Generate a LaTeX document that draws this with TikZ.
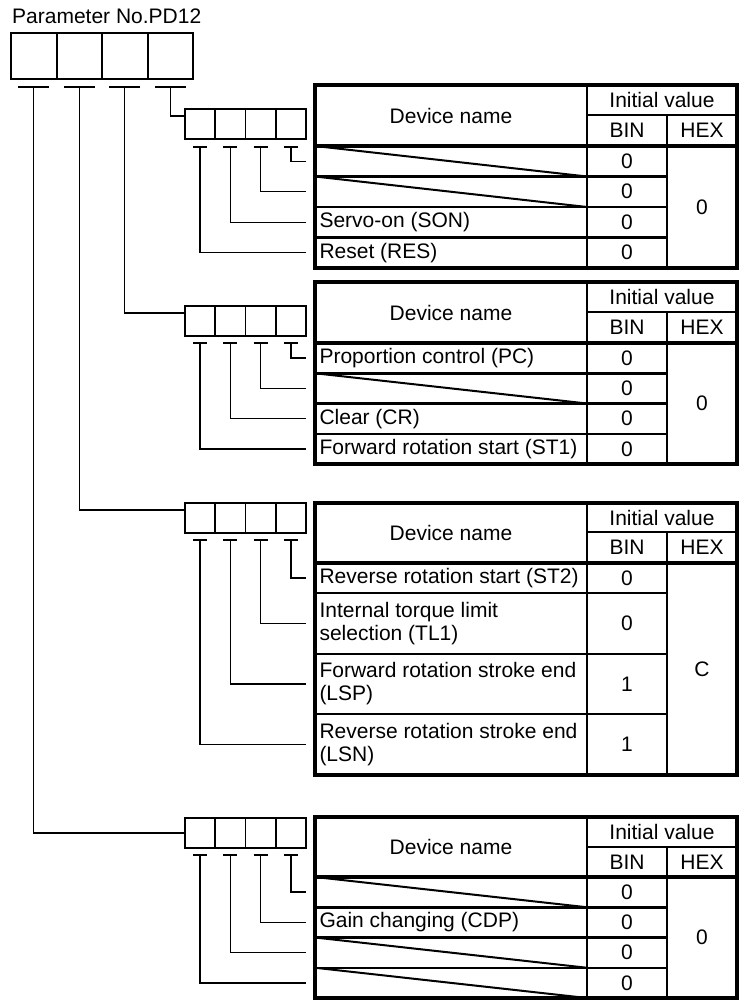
\documentclass[tikz,border=0pt]{standalone}
\usepackage{fontspec}
\setmainfont{Liberation Sans}
\tikzset{
  conn/.style={line width=1.3pt},
  tickln/.style={line width=2pt},
  bigcell/.style={draw, line width=2pt, minimum width=45.5pt, minimum height=46pt, inner sep=0pt, outer sep=0pt},
  smallcell/.style={draw, line width=1.6pt, minimum width=30.25pt, minimum height=30pt, inner sep=0pt, outer sep=0pt},
  namecell/.style={draw, line width=2.5pt, text width=263pt, inner xsep=4.5pt, inner ysep=0pt, align=flush left, outer sep=0pt},
  hdcell/.style={draw, line width=2.5pt, inner sep=0pt, outer sep=0pt},
  diag/.style={line width=2pt},
  border/.style={line width=3.5pt},
  hbline/.style={line width=3.2pt},
}
% #1 prefix #2 top #3 headH #4 ivH #5 binH #6 hb #7 bodyH #8 bottom #9 hex
\newcommand\DevTab[9]{%
  \node[namecell, align=flush center, minimum height=#3pt, anchor=north west] (#1dn) at (315,#2) {Device name};
  \node[hdcell, minimum width=150pt, minimum height=#4pt, anchor=north west] (#1iv) at (587,#2) {Initial value};
  \node[hdcell, minimum width=80pt, minimum height=#5pt, anchor=south west] (#1bin) at (587,#6) {BIN};
  \node[hdcell, minimum width=70pt, minimum height=#5pt, anchor=south west] (#1hex) at (667,#6) {HEX};
  \node[hdcell, minimum width=70pt, minimum height=#7pt, anchor=north west] (#1hx) at (667,#6) {#9};
  \draw[border] (#1dn.north west) rectangle (#1hx.south east);
  \draw[hbline] (#1dn.south west) -- (#1hx.north east);
}
% #1 name #2 top #3 height #4 text #5 bin
\newcommand\DevRow[5]{%
  \node[namecell, minimum height=#3pt, anchor=north west] (#1) at (315,#2) {#4};
  \node[hdcell, minimum width=80pt, minimum height=#3pt, anchor=north west] (#1b) at (587,#2) {#5};
}
% #1 prefix #2 center y #3 tick y
\newcommand\SmallBox[3]{%
  \foreach \i in {1,...,4} {%
    \node[smallcell] (#1c\i) at ({185+30.25*(\i-0.5)},#2) {};
    \coordinate (#1t\i) at ({185+30.25*(\i-0.5)},#3);
    \draw[tickln] ([xshift=-7pt]#1t\i) -- ([xshift=7pt]#1t\i);
  }%
}
\begin{document}
\begin{tikzpicture}[x=1pt,y=-1pt,font=\fontsize{21}{23}\selectfont]
\useasboundingbox (0,0) rectangle (744,1005);

% title
\node[anchor=base west, inner sep=0pt] (title) at (12,23) {Parameter No.PD12};

% top box
\foreach \i in {1,...,4} {%
  \node[bigcell] (tc\i) at ({11+45.5*(\i-0.5)},56) {};
  \coordinate (tt\i) at ({11+45.5*(\i-0.5)},87);
  \draw[tickln] ([xshift=-15.5pt]tt\i) -- ([xshift=15.5pt]tt\i);
}

% small boxes
\SmallBox{s1}{124}{147}
\SmallBox{s2}{321}{343}
\SmallBox{s3}{518}{540}
\SmallBox{s4}{833}{855}

% top connectors
\draw[conn] (tt4) |- ([yshift=8pt]s1c1.west);
\draw[conn] (tt3) |- ([yshift=8pt]s2c1.west);
\draw[conn] (tt2) |- ([yshift=8pt]s3c1.west);
\draw[conn] (tt1) |- (s4c1.west);

% table 1
\DevRow{a1}{146}{30.5}{}{0}
\DevRow{a2}{176.5}{30.5}{}{0}
\DevRow{a3}{207}{30.5}{Servo-on (SON)}{0}
\DevRow{a4}{237.5}{30.5}{Reset (RES)}{0}
\DevTab{a}{85}{61}{30}{31}{146}{122}{268}{0}
\draw[diag] (a1.north west) -- (a1.south east);
\draw[diag] (a2.north west) -- (a2.south east);

% table 2
\DevRow{b1}{343}{30.25}{Proportion control (PC)}{0}
\DevRow{b2}{373.25}{30.25}{}{0}
\DevRow{b3}{403.5}{30.25}{Clear (CR)}{0}
\DevRow{b4}{433.75}{30.25}{Forward rotation start (ST1)}{0}
\DevTab{b}{282}{61}{30}{31}{343}{121}{464}{0}
\draw[diag] (b2.north west) -- (b2.south east);

% table 3
\DevRow{c1}{563}{30}{Reverse rotation start (ST2)}{0}
\DevRow{c2}{593}{61}{Internal torque limit\\selection (TL1)}{0}
\DevRow{c3}{654}{60}{Forward rotation stroke end\\(LSP)}{1}
\DevRow{c4}{714}{61}{Reverse rotation stroke end\\(LSN)}{1}
\DevTab{c}{503}{60}{29}{31}{563}{212}{775}{C}

% table 4
\DevRow{d1}{877}{30.25}{}{0}
\DevRow{d2}{907.25}{30.25}{Gain changing (CDP)}{0}
\DevRow{d3}{937.5}{30.25}{}{0}
\DevRow{d4}{967.75}{30.25}{}{0}
\DevTab{d}{817}{60}{30}{30}{877}{121}{998}{0}
\draw[diag] (d1.north west) -- (d1.south east);
\draw[diag] (d3.north west) -- (d3.south east);
\draw[diag] (d4.north west) -- (d4.south east);

% small-box connectors to rows
\draw[conn] (s1t4) |- ([xshift=-9pt]a1.west);
\draw[conn] (s1t3) |- ([xshift=-9pt]a2.west);
\draw[conn] (s1t2) |- ([xshift=-9pt]a3.west);
\draw[conn] (s1t1) |- ([xshift=-9pt]a4.west);
\draw[conn] (s2t4) |- ([xshift=-9pt]b1.west);
\draw[conn] (s2t3) |- ([xshift=-9pt]b2.west);
\draw[conn] (s2t2) |- ([xshift=-9pt]b3.west);
\draw[conn] (s2t1) |- ([xshift=-9pt]b4.west);
\draw[conn] (s3t4) |- ([xshift=-9pt]c1.west);
\draw[conn] (s3t3) |- ([xshift=-9pt]c2.west);
\draw[conn] (s3t2) |- ([xshift=-9pt]c3.west);
\draw[conn] (s3t1) |- ([xshift=-9pt]c4.west);
\draw[conn] (s4t4) |- ([xshift=-9pt]d1.west);
\draw[conn] (s4t3) |- ([xshift=-9pt]d2.west);
\draw[conn] (s4t2) |- ([xshift=-9pt]d3.west);
\draw[conn] (s4t1) |- ([xshift=-9pt]d4.west);
\end{tikzpicture}
\end{document}
